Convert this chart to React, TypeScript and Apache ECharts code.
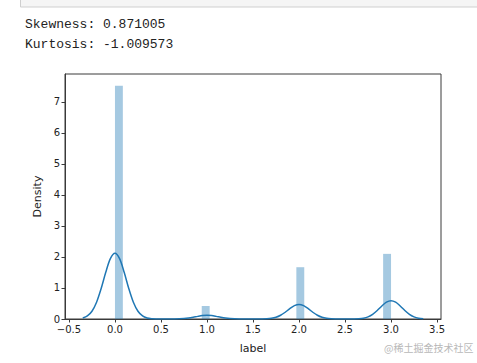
import React, { useEffect, useRef } from "react";
import * as echarts from "echarts";

const statLines = ["Skewness: 0.871005", "Kurtosis: -1.009573"];
const watermark = "@稀土掘金技术社区";
const xLabelName = "label";
const yLabelName = "Density";

const xTicks = [-0.5, 0.0, 0.5, 1.0, 1.5, 2.0, 2.5, 3.0, 3.5];
const yTicks = [0, 1, 2, 3, 4, 5, 6, 7];

// histogram bins (start, end, density)
const binStart = [0.0, 0.943, 1.971, 2.914];
const binEnd = [0.0857, 1.029, 2.057, 3.0];
const binDensity = [7.52, 0.42, 1.67, 2.1];

// KDE curve
const kdeX = [
  -0.35, -0.3, -0.25, -0.2, -0.15, -0.1, -0.05, 0.0, 0.05, 0.1, 0.15, 0.2, 0.25, 0.3, 0.35, 0.4, 0.45, 0.5,
  0.55, 0.6, 0.65, 0.7, 0.75, 0.8, 0.85, 0.9, 0.95, 1.0, 1.05, 1.1, 1.15, 1.2, 1.25, 1.3, 1.35, 1.4, 1.45,
  1.5, 1.55, 1.6, 1.65, 1.7, 1.75, 1.8, 1.85, 1.9, 1.95, 2.0, 2.05, 2.1, 2.15, 2.2, 2.25, 2.3, 2.35, 2.4,
  2.45, 2.5, 2.55, 2.6, 2.65, 2.7, 2.75, 2.8, 2.85, 2.9, 2.95, 3.0, 3.05, 3.1, 3.15, 3.2, 3.25, 3.3, 3.35,
];
const kdeY = [
  0.032, 0.098, 0.25, 0.541, 0.984, 1.507, 1.946, 2.12, 1.946, 1.507, 0.984, 0.541, 0.25, 0.098, 0.032, 0.009, 0.002, 0.0,
  0.0, 0.001, 0.002, 0.006, 0.014, 0.031, 0.056, 0.085, 0.11, 0.12, 0.11, 0.085, 0.056, 0.031, 0.014, 0.006, 0.002, 0.001, 0.0,
  0.0, 0.001, 0.002, 0.007, 0.022, 0.055, 0.12, 0.218, 0.334, 0.431, 0.47, 0.431, 0.334, 0.218, 0.12, 0.055, 0.022, 0.007, 0.002,
  0.0, 0.0, 0.0, 0.002, 0.009, 0.027, 0.07, 0.15, 0.274, 0.419, 0.542, 0.59, 0.542, 0.419, 0.274, 0.15, 0.07, 0.027, 0.009,
];

export default function App() {
  const ref = useRef<HTMLDivElement>(null);
  useEffect(() => {
    if (!ref.current) return;
    const chart = echarts.init(ref.current, null, { renderer: "svg" });
    const font = "DejaVu Sans";
    const fmt = (v: number) => v.toFixed(1).replace("-", "\u2212");
    chart.setOption({
      animation: false,
      backgroundColor: "#ffffff",
      grid: {
        left: 65,
        top: 74,
        width: 376,
        height: 245,
        show: true,
        borderColor: "#3a3a3a",
        borderWidth: 1,
        backgroundColor: "transparent",
      },
      xAxis: {
        type: "value",
        min: -0.543,
        max: 3.543,
        name: xLabelName,
        nameLocation: "middle",
        nameGap: 24,
        nameTextStyle: { fontFamily: font, fontSize: 11, color: "#222" },
        splitLine: { show: false },
        axisLine: { show: true, onZero: false, lineStyle: { color: "#3a3a3a", width: 1 } },
        axisTick: { show: true, length: 3.5, customValues: xTicks, lineStyle: { color: "#3a3a3a" } },
        axisLabel: {
          customValues: xTicks,
          formatter: (v: number) => fmt(v),
          fontFamily: font,
          fontSize: 10,
          color: "#222",
          margin: 5,
        },
      },
      yAxis: {
        type: "value",
        min: 0,
        max: 7.9,
        name: yLabelName,
        nameLocation: "middle",
        nameGap: 22,
        nameRotate: 90,
        nameTextStyle: { fontFamily: font, fontSize: 11, color: "#222" },
        splitLine: { show: false },
        axisLine: { show: true, onZero: false, lineStyle: { color: "#3a3a3a", width: 1 } },
        axisTick: { show: true, length: 3.5, customValues: yTicks, lineStyle: { color: "#3a3a3a" } },
        axisLabel: {
          customValues: yTicks,
          formatter: (v: number) => String(Math.round(v)),
          fontFamily: font,
          fontSize: 10,
          color: "#222",
          margin: 5,
        },
      },
      series: [
        {
          type: "custom",
          data: binStart.map((s, i) => [s, binEnd[i], binDensity[i]]),
          encode: { x: [0, 1], y: 2 },
          renderItem: (params: any, api: any) => {
            const p0 = api.coord([api.value(0), api.value(2)]);
            const p1 = api.coord([api.value(1), 0]);
            return {
              type: "rect",
              shape: { x: p0[0], y: p0[1], width: p1[0] - p0[0], height: p1[1] - p0[1] },
              style: { fill: "rgba(31,119,180,0.4)" },
            };
          },
          z: 1,
        },
        {
          type: "line",
          data: kdeX.map((x, i) => [x, kdeY[i]]),
          smooth: 0.3,
          showSymbol: false,
          lineStyle: { color: "#1f77b4", width: 1.5 },
          z: 2,
        },
      ],
      graphic: [
        {
          type: "rect",
          shape: { x: 20.5, y: -2, width: 470, height: 9 },
          style: { fill: "#f5f5f5", stroke: "#cfcfcf", lineWidth: 1 },
        },
        {
          type: "text",
          x: 25,
          y: 18,
          style: { text: statLines[0], font: '13px "Liberation Mono"', fill: "#222" },
        },
        {
          type: "text",
          x: 25,
          y: 38,
          style: { text: statLines[1], font: '13px "Liberation Mono"', fill: "#222" },
        },
        {
          type: "text",
          x: 384,
          y: 342,
          style: { text: watermark, font: '10px "Noto Sans CJK SC"', fill: "#b8b8b8" },
        },
      ],
    });
    return () => chart.dispose();
  }, []);
  return (
    <div
      ref={ref}
      style={{ position: "fixed", left: 0, top: 0, width: 477, height: 363 }}
    />
  );
}
